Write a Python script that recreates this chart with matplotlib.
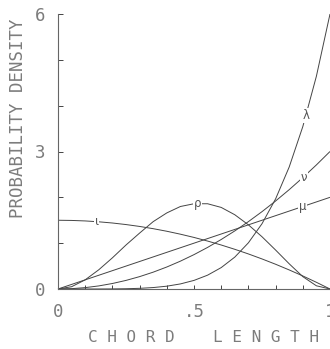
import matplotlib
matplotlib.use("Agg")
import matplotlib.pyplot as plt

x = [0.0, 0.05, 0.1, 0.15, 0.2, 0.25, 0.3, 0.35, 0.4, 0.45, 0.5,
     0.55, 0.6, 0.65, 0.7, 0.75, 0.8, 0.85, 0.9, 0.95, 1.0]

iota = [1.50, 1.496, 1.485, 1.466, 1.44, 1.406, 1.365, 1.316, 1.26, 1.196, 1.125,
        1.046, 0.96, 0.866, 0.765, 0.656, 0.54, 0.416, 0.285, 0.146, 0.0]
mu = [0.0, 0.1, 0.2, 0.3, 0.4, 0.5, 0.6, 0.7, 0.8, 0.9, 1.0,
      1.1, 1.2, 1.3, 1.4, 1.5, 1.6, 1.7, 1.8, 1.9, 2.0]
nu = [0.0, 0.0075, 0.03, 0.0675, 0.12, 0.1875, 0.27, 0.3675, 0.48, 0.6075, 0.75,
      0.9075, 1.08, 1.2675, 1.47, 1.6875, 1.92, 2.1675, 2.43, 2.7075, 3.0]
lam = [0.0, 0.0, 0.0001, 0.0005, 0.0019, 0.0059, 0.0146, 0.0315, 0.0614, 0.1107, 0.1875,
       0.302, 0.467, 0.696, 1.008, 1.424, 1.966, 2.662, 3.543, 4.643, 6.0]
rho = [0.0, 0.05, 0.20, 0.42, 0.68, 0.96, 1.22, 1.47, 1.66, 1.80, 1.86,
       1.86, 1.78, 1.62, 1.40, 1.14, 0.85, 0.55, 0.27, 0.07, 0.0]

curve_labels = ["λ", "ν", "μ", "ρ", "ι"]
label_x = [0.912, 0.904, 0.900, 0.513, 0.142]
label_y = [3.78, 2.44, 1.80, 1.86, 1.47]

xticks_major = [0.0, 0.5, 1.0]
xtick_labels = ["0", ".5", "1"]
yticks_major = [0, 3, 6]
ytick_labels = ["0", "3", "6"]

mono = ["DejaVu Sans Mono"]
txt_color = "#7c7c7c"
line_color = "#444444"

fig = plt.figure(figsize=(3.30, 3.49), dpi=100)
ax = fig.add_axes([58/330, 60/349, 272/330, 275/349])

for series in (iota, mu, nu, lam, rho):
    ax.plot(x, series, color=line_color, lw=0.7, clip_on=False, solid_capstyle="butt")

for lab, lx, ly in zip(curve_labels, label_x, label_y):
    ax.text(lx, ly, lab, ha="center", va="center", fontsize=8.5, color="#555555",
            bbox=dict(facecolor="white", edgecolor="none", pad=0.6), zorder=5)

ax.set_xlim(0, 1)
ax.set_ylim(0, 6)
for s in ("top", "right"):
    ax.spines[s].set_visible(False)
for s in ("left", "bottom"):
    ax.spines[s].set_color("#666666")
    ax.spines[s].set_linewidth(0.8)

ax.set_xticks([i / 10 for i in range(11)], minor=True)
ax.set_yticks(range(7), minor=True)
ax.set_xticks(xticks_major)
ax.set_xticklabels(xtick_labels, family=mono, fontsize=12.5, color=txt_color)
ax.set_yticks(yticks_major)
ax.set_yticklabels(ytick_labels, family=mono, fontsize=12.5, color=txt_color)
ax.tick_params(axis="x", which="both", direction="in", length=3.2, width=0.7,
               color="#444444", pad=10)
ax.tick_params(axis="y", which="both", direction="in", length=3.8, width=0.7,
               color="#444444", pad=9)

fig.text(18.5/330, 1 - 118.5/349, "PROBABILITY DENSITY", rotation=90,
         ha="center", va="center", family=mono, fontsize=12.5, color=txt_color)
fig.text(203.3/330, 1 - 338/349, "C H O R D    L E N G T H",
         ha="center", va="center", family=mono, fontsize=11.5, color=txt_color)

fig.savefig("out.png", dpi=100)
